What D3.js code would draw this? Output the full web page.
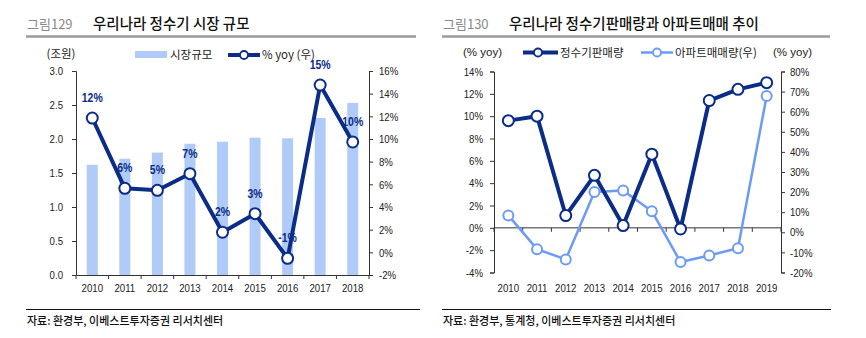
<!DOCTYPE html>
<html>
<head>
<meta charset="utf-8">
<script src="https://cdn.jsdelivr.net/npm/d3@7"></script>
<style>
  body { margin: 0; background: #fff; }
  svg { display: block; }
  .kr { font-family: "Noto Sans CJK KR", sans-serif; }
  .num { font-family: "Liberation Sans", Arial, sans-serif; font-size: 11.5px; fill: #222; }
</style>
</head>
<body>
<script>
// 그림129 data
var years1 = ["2010","2011","2012","2013","2014","2015","2016","2017","2018"];
var marketSize = [1.62, 1.71, 1.80, 1.93, 1.96, 2.02, 2.01, 2.31, 2.53];
var marketYoy = [11.85, 5.65, 5.47, 6.94, 1.77, 3.41, -0.53, 14.76, 9.74];
var yoyLabels = ["12%", "6%", "5%", "7%", "2%", "3%", "-1%", "15%", "10%"];

// 그림130 data
var years2 = ["2010","2011","2012","2013","2014","2015","2016","2017","2018","2019"];
var purifierSales = [9.6, 10.0, 1.1, 4.7, 0.2, 6.6, -0.1, 11.4, 12.4, 13.0];
var aptSales = [8.4, -8.4, -13.5, 20.0, 20.8, 10.5, -14.8, -11.5, -7.9, 67.8];

var navy = "#0b2d87",
    lightLine = "#6b9bf7",
    barColor = "#b0cbf8";

var width = 866, height = 338;
var squeeze = 0.84;   // narrow look for the numeric labels

var svg = d3.select("body").append("svg")
    .attr("width", width)
    .attr("height", height);

// squeeze text horizontally, keeping its anchor point
function narrow(sel){
    sel.each(function(){
        var t = d3.select(this);
        var x = +t.attr("x") || 0;
        t.attr("x", x / squeeze).attr("transform", "scale(" + squeeze + ",1)");
    });
}

// header: figure number, title, grey rule
function header(x0, x1, num, title){
    svg.append("text").attr("class", "kr")
        .attr("x", x0 + 1).attr("y", 29)
        .attr("font-size", 13).attr("fill", "#888")
        .text(num);
    svg.append("text").attr("class", "kr")
        .attr("x", x0 + 67).attr("y", 29)
        .attr("font-size", 14.5).attr("font-weight", 500).attr("fill", "#111")
        .text(title);
    svg.append("line")
        .attr("x1", x0).attr("x2", x1)
        .attr("y1", 36.5).attr("y2", 36.5)
        .attr("stroke", "#9a9a9a").attr("stroke-width", 2.5);
}

// footer: black rule and source line
function footer(x0, x1, txt){
    svg.append("line")
        .attr("x1", x0).attr("x2", x1)
        .attr("y1", 309.5).attr("y2", 309.5)
        .attr("stroke", "#111").attr("stroke-width", 1.2);
    svg.append("text").attr("class", "kr")
        .attr("x", x0 + 1).attr("y", 325)
        .attr("font-size", 11).attr("font-weight", 500).attr("fill", "#111")
        .text(txt);
}

function styleAxis(g){
    g.select(".domain").attr("stroke", "#333");
    g.selectAll(".tick line").attr("stroke", "#333");
    g.selectAll(".tick text").attr("class", "num").attr("font-size", null).attr("font-family", null)
        .call(narrow);
}

function lineMarkers(g, data, x, y, color, lw, r){
    var line = d3.line()
        .x(function(d, i){ return x(i); })
        .y(function(d){ return y(d); });
    g.append("path")
        .datum(data)
        .attr("fill", "none")
        .attr("stroke", color)
        .attr("stroke-width", lw)
        .attr("stroke-linejoin", "round")
        .attr("d", line);
    g.selectAll(null)
        .data(data)
        .enter()
        .append("circle")
        .attr("cx", function(d, i){ return x(i); })
        .attr("cy", function(d){ return y(d); })
        .attr("r", r)
        .attr("fill", "#fff")
        .attr("stroke", color)
        .attr("stroke-width", 2);
}

// ---------------- chart 1 ----------------
header(26, 416, "그림129", "우리나라 정수기 시장 규모");
footer(26, 420, "자료: 환경부, 이베스트투자증권 리서치센터");

var x1 = d3.scaleBand().domain(years1).range([76, 369]);
var yL1 = d3.scaleLinear().domain([0, 3]).range([275, 71]);
var yR1 = d3.scaleLinear().domain([-2, 16]).range([275, 71]);
var cx1 = function(i){ return x1(years1[i]) + x1.bandwidth() / 2; };

var c1 = svg.append("g");

c1.selectAll(".bar")
    .data(marketSize)
    .enter()
    .append("rect")
    .attr("class", "bar")
    .attr("x", function(d, i){ return cx1(i) - 5.5; })
    .attr("width", 11)
    .attr("y", function(d){ return yL1(d); })
    .attr("height", function(d){ return yL1(0) - yL1(d); })
    .attr("fill", barColor);

c1.append("g")
    .attr("transform", "translate(76,0)")
    .call(d3.axisLeft(yL1).tickValues(d3.range(0, 3.01, 0.5)).tickFormat(d3.format(".1f")).tickSizeOuter(0).tickSize(4).tickPadding(9))
    .call(styleAxis);

c1.append("g")
    .attr("transform", "translate(369,0)")
    .call(d3.axisRight(yR1).tickValues(d3.range(-2, 16.1, 2)).tickFormat(function(d){ return d + "%"; }).tickSizeOuter(0).tickSize(4).tickPadding(6))
    .call(styleAxis);

var xa1 = c1.append("g")
    .attr("transform", "translate(0,275)")
    .call(d3.axisBottom(x1).tickSize(0).tickPadding(9))
    .call(styleAxis);
// boundary ticks between categories
xa1.selectAll(".bnd")
    .data(d3.range(years1.length + 1))
    .enter()
    .append("line")
    .attr("x1", function(i){ return 76 + i * x1.step(); })
    .attr("x2", function(i){ return 76 + i * x1.step(); })
    .attr("y1", 0).attr("y2", 4)
    .attr("stroke", "#333");

lineMarkers(c1, marketYoy, cx1, yR1, navy, 4, 5.5);

c1.selectAll(".lbl")
    .data(marketYoy)
    .enter()
    .append("text")
    .attr("class", "num")
    .attr("x", function(d, i){ return cx1(i); })
    .attr("y", function(d){ return yR1(d) - 16; })
    .attr("text-anchor", "middle")
    .attr("font-weight", "bold")
    .style("font-size", "12.5px")
    .style("fill", navy)
    .text(function(d, i){ return yoyLabels[i]; })
    .call(narrow);

// legend / unit
svg.append("text").attr("class", "kr")
    .attr("x", 61).attr("y", 58).attr("text-anchor", "middle")
    .attr("font-size", 11.5).attr("fill", "#222").text("(조원)");
svg.append("rect").attr("x", 135).attr("y", 51).attr("width", 32).attr("height", 7).attr("fill", barColor);
svg.append("text").attr("class", "kr")
    .attr("x", 170).attr("y", 59).attr("font-size", 11.5).attr("fill", "#222").text("시장규모");
svg.append("line").attr("x1", 228).attr("x2", 260).attr("y1", 55).attr("y2", 55)
    .attr("stroke", navy).attr("stroke-width", 4);
svg.append("circle").attr("cx", 244).attr("cy", 55).attr("r", 4)
    .attr("fill", "#fff").attr("stroke", navy).attr("stroke-width", 1.8);
svg.append("text").attr("class", "kr")
    .attr("x", 262).attr("y", 59).attr("font-size", 11.5).attr("fill", "#222").text("% yoy (우)");

// ---------------- chart 2 ----------------
header(442, 830, "그림130", "우리나라 정수기판매량과 아파트매매 추이");
footer(442, 831, "자료: 환경부, 통계청, 이베스트투자증권 리서치센터");

var x2 = d3.scaleBand().domain(years2).range([494, 781]);
var yL2 = d3.scaleLinear().domain([-4, 14]).range([272.5, 71.5]);
var yR2 = d3.scaleLinear().domain([-20, 80]).range([272.5, 71.5]);
var cx2 = function(i){ return x2(years2[i]) + x2.bandwidth() / 2; };

var c2 = svg.append("g");

c2.append("g")
    .attr("transform", "translate(494,0)")
    .call(d3.axisLeft(yL2).tickValues(d3.range(-4, 14.1, 2)).tickFormat(function(d){ return d + "%"; }).tickSizeOuter(0).tickSize(4).tickPadding(7))
    .call(styleAxis);

c2.append("g")
    .attr("transform", "translate(781,0)")
    .call(d3.axisRight(yR2).tickValues(d3.range(-20, 80.1, 10)).tickFormat(function(d){ return d + "%"; }).tickSizeOuter(0).tickSize(4).tickPadding(5))
    .call(styleAxis);

// zero line with boundary ticks
var zl = c2.append("g").attr("transform", "translate(0," + yL2(0) + ")");
zl.append("line").attr("x1", 494).attr("x2", 781).attr("stroke", "#333");
zl.selectAll(".bnd")
    .data(d3.range(years2.length + 1))
    .enter()
    .append("line")
    .attr("x1", function(i){ return 494 + i * x2.step(); })
    .attr("x2", function(i){ return 494 + i * x2.step(); })
    .attr("y1", 0).attr("y2", 4)
    .attr("stroke", "#333");

// year labels along the bottom
c2.append("g")
    .attr("transform", "translate(0,272.5)")
    .call(d3.axisBottom(x2).tickSize(0).tickPadding(11))
    .call(styleAxis)
    .select(".domain").remove();

lineMarkers(c2, aptSales, cx2, yR2, lightLine, 2.5, 5);
lineMarkers(c2, purifierSales, cx2, yL2, navy, 4, 5.5);

// legend / units
svg.append("text").attr("class", "num")
    .attr("x", 463).attr("y", 56).text("(% yoy)");
svg.append("line").attr("x1", 523).attr("x2", 558).attr("y1", 52.5).attr("y2", 52.5)
    .attr("stroke", navy).attr("stroke-width", 4);
svg.append("circle").attr("cx", 538).attr("cy", 52.5).attr("r", 4)
    .attr("fill", "#fff").attr("stroke", navy).attr("stroke-width", 1.8);
svg.append("text").attr("class", "kr")
    .attr("x", 560).attr("y", 57).attr("font-size", 11.5).attr("fill", "#222").text("정수기판매량");
svg.append("line").attr("x1", 641).attr("x2", 673).attr("y1", 52.5).attr("y2", 52.5)
    .attr("stroke", lightLine).attr("stroke-width", 2.5);
svg.append("circle").attr("cx", 657).attr("cy", 52.5).attr("r", 4)
    .attr("fill", "#fff").attr("stroke", lightLine).attr("stroke-width", 1.8);
svg.append("text").attr("class", "kr")
    .attr("x", 675).attr("y", 57).attr("font-size", 11.5).attr("fill", "#222").text("아파트매매량(우)");
svg.append("text").attr("class", "num")
    .attr("x", 773).attr("y", 56).text("(% yoy)");
</script>
</body>
</html>
